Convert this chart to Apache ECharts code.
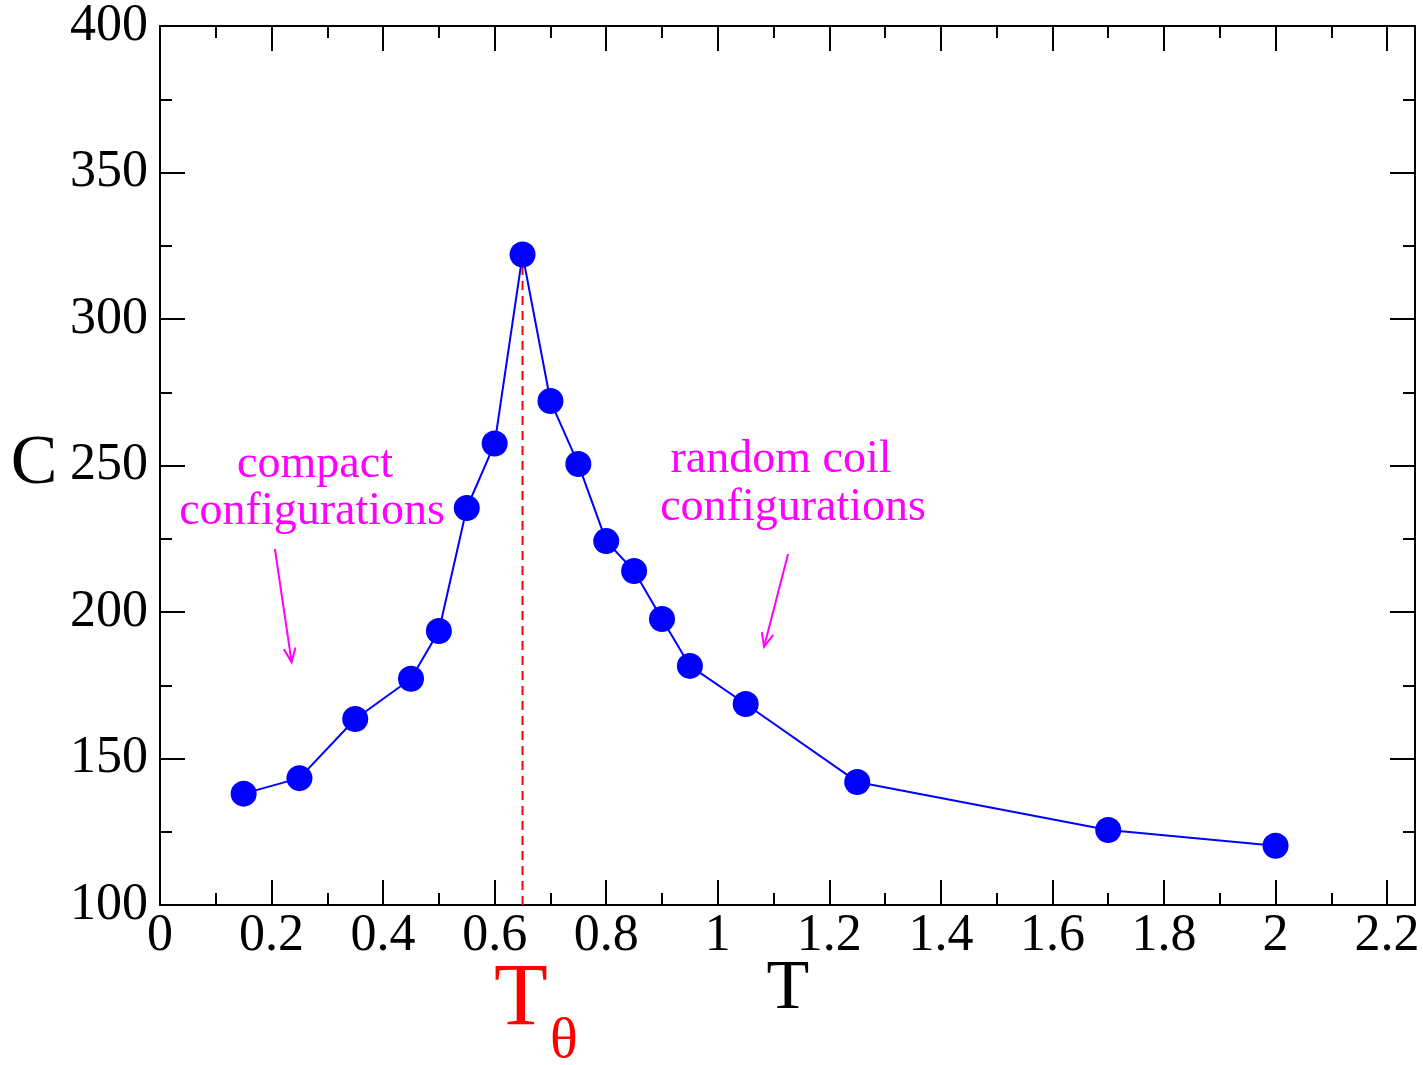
<!DOCTYPE html>
<html>
<head>
<meta charset="utf-8">
<script src="https://cdn.jsdelivr.net/npm/echarts@6/dist/echarts.min.js"></script>
<style>html,body{margin:0;padding:0;background:#fff;}#c{width:1423px;height:1065px;}</style>
</head>
<body>
<div id="c"></div>
<script>
// ---- data ----
const temps = [0.15, 0.25, 0.35, 0.45, 0.5, 0.55, 0.6, 0.65, 0.7, 0.75, 0.8, 0.85, 0.9, 0.95, 1.05, 1.25, 1.7, 2.0];
const heatC = [138, 143.3, 163.5, 177.2, 193.5, 235.5, 257.5, 322, 272, 250.5, 224.2, 214, 197.6, 181.6, 168.6, 142, 125.6, 120.2];
const thetaT = 0.65;
const thetaC = [100, 322];
const arrowCompact = [[0.206, 221.5], [0.236, 182.9]];
const arrowCoil = [[1.126, 219.8], [1.083, 188.1]];
const xRange = [0, 2.25];
const yRange = [100, 400];

const FONT = '"Liberation Serif", "DejaVu Serif", serif';
const chart = echarts.init(document.getElementById('c'), null, {renderer: 'canvas'});

function majorX(pos, showLabel) {
  return {
    type: 'value', position: pos, min: xRange[0], max: xRange[1], interval: 0.2,
    axisLine: {show: true, onZero: false, lineStyle: {color: '#000', width: 2}},
    axisTick: {show: true, inside: true, length: 25, lineStyle: {color: '#000', width: 2}},
    axisLabel: {show: showLabel, margin: 5, fontSize: 52, fontFamily: FONT, color: '#000',
      formatter: v => (Math.abs(v - 2.25) < 1e-6 ? '' : String(v))},
    splitLine: {show: false}
  };
}
function minorX(pos) {
  return {
    type: 'value', position: pos, min: xRange[0], max: xRange[1], interval: 0.1,
    axisLine: {show: false, onZero: false},
    axisTick: {show: true, inside: true, length: 12, lineStyle: {color: '#000', width: 2}},
    axisLabel: {show: false},
    splitLine: {show: false}
  };
}
function yAx(pos, showLabel) {
  return {
    type: 'value', position: pos, min: yRange[0], max: yRange[1], interval: 50,
    axisLine: {show: true, onZero: false, lineStyle: {color: '#000', width: 2}},
    axisTick: {show: true, inside: true, length: 25, lineStyle: {color: '#000', width: 2}},
    minorTick: {show: true, splitNumber: 2, length: 12, lineStyle: {color: '#000', width: 2}},
    axisLabel: {show: showLabel, margin: 12, fontSize: 52, fontFamily: FONT, color: '#000'},
    splitLine: {show: false}, minorSplitLine: {show: false}
  };
}

chart.setOption({
  animation: false,
  backgroundColor: '#fff',
  grid: {left: 160, right: 8, top: 26, bottom: 160, containLabel: false},
  xAxis: [majorX('bottom', true), minorX('bottom'), majorX('top', false), minorX('top')],
  yAxis: [yAx('left', true), yAx('right', false)],
  series: [
    {
      type: 'line', xAxisIndex: 0, yAxisIndex: 0, z: 1,
      data: thetaC.map(c => [thetaT, c]),
      symbol: 'none', silent: true,
      lineStyle: {color: '#ff0000', width: 2, type: [9, 6]}
    },
    {
      type: 'line', xAxisIndex: 0, yAxisIndex: 0, z: 3,
      data: temps.map((t, i) => [t, heatC[i]]),
      symbol: 'circle', symbolSize: 26,
      itemStyle: {color: '#0000ff'},
      lineStyle: {color: '#0000ff', width: 2}
    }
  ]
});

function arrowGraphics(pair) {
  const a = chart.convertToPixel({xAxisIndex: 0, yAxisIndex: 0}, pair[0]);
  const b = chart.convertToPixel({xAxisIndex: 0, yAxisIndex: 0}, pair[1]);
  const ang = Math.atan2(b[1] - a[1], b[0] - a[0]);
  const L = 15, h = 0.4;
  const w1 = [b[0] - L * Math.cos(ang - h), b[1] - L * Math.sin(ang - h)];
  const w2 = [b[0] - L * Math.cos(ang + h), b[1] - L * Math.sin(ang + h)];
  const st = {stroke: '#ff00ff', lineWidth: 2, fill: null};
  return [
    {type: 'polyline', shape: {points: [a, b]}, style: st, z: 10},
    {type: 'polyline', shape: {points: [w1, b, w2]}, style: st, z: 10}
  ];
}

function txt(text, x, y, size, color) {
  return {type: 'text', x: x, y: y, z: 10,
    style: {text: text, font: size + 'px ' + FONT, fill: color, align: 'center', verticalAlign: 'middle'}};
}

chart.setOption({
  graphic: [
    txt('C', 34, 465, 70, '#000'),
    txt('T', 788, 990, 70, '#000'),
    txt('T', 521, 1001, 88, '#ff0000'),
    txt('θ', 564, 1042, 58, '#ff0000'),
    txt('compact', 315, 465, 46, '#ff00ff'),
    txt('configurations', 312, 512, 46, '#ff00ff'),
    txt('random coil', 781, 460, 46, '#ff00ff'),
    txt('configurations', 793, 508, 46, '#ff00ff'),
    ...arrowGraphics(arrowCompact),
    ...arrowGraphics(arrowCoil)
  ]
});
</script>
</body>
</html>
